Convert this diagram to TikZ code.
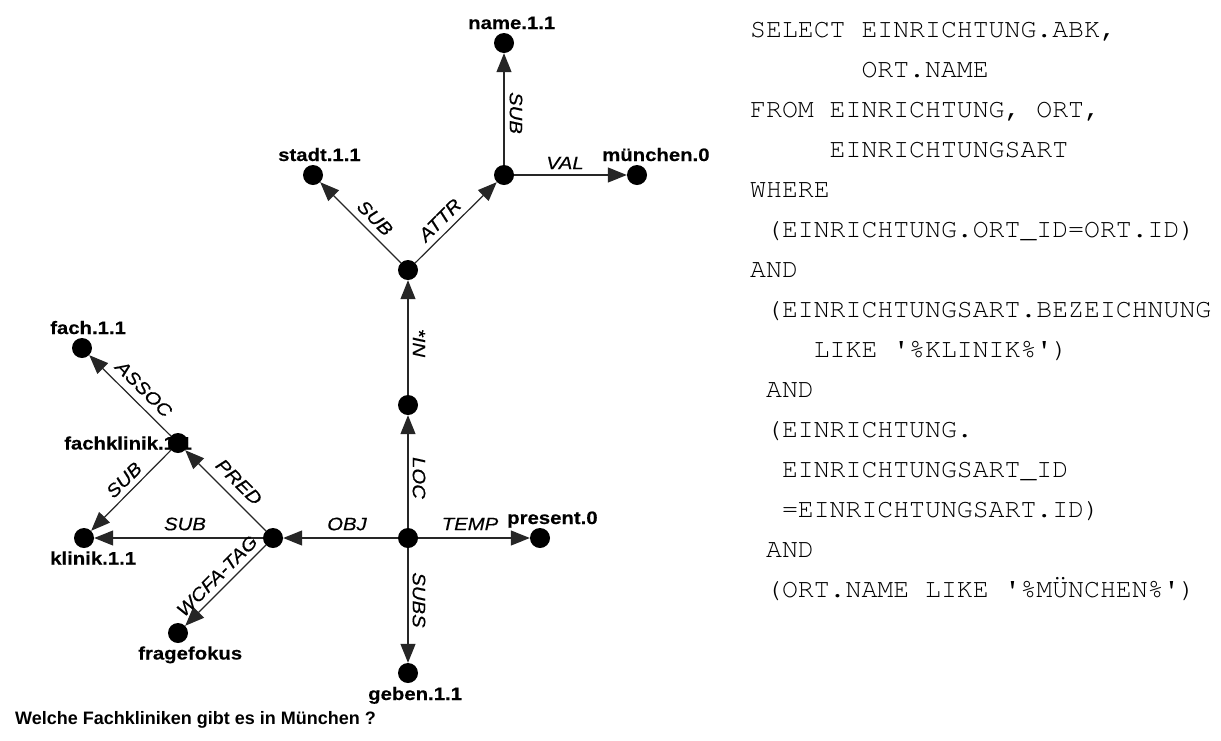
\documentclass[tikz,border=0pt]{standalone}
\usepackage[T1]{fontenc}
\usepackage{fontspec}
\setmainfont{Liberation Sans}
\setmonofont{Liberation Mono}
\newfontfamily\lblfont{Liberation Sans}[FakeStretch=1.13, BoldFeatures={FakeBold=0.3}, ItalicFeatures={FakeBold=0.4}]
\newcommand\sqlfont{\fontencoding{T1}\fontfamily{pcr}\fontseries{m}\fontshape{n}\fontsize{26.5}{26.5}\selectfont}
\newcommand\sq{\textquotesingle}
\usetikzlibrary{arrows.meta}
\tikzset{
  dot/.style={circle, fill=black, minimum size=20pt, inner sep=0pt},
  nlab/.style={font=\lblfont\bfseries\fontsize{18}{18}\selectfont, inner sep=0pt, anchor=base west},
  elab/.style={font=\lblfont\itshape\fontsize{18}{18}\selectfont, inner sep=0pt},
  edge/.style={draw=black!85, line width=1.2pt, -{Triangle[length=19pt,width=15pt]}},
  sql/.style={font=\sqlfont, anchor=base west, inner sep=0pt},
  caption/.style={font=\bfseries\fontsize{18}{18}\selectfont, anchor=base west, inner sep=0pt}
}
\begin{document}
\begin{tikzpicture}[x=1pt,y=-1pt]
\useasboundingbox[fill=white] (0,0) rectangle (1221,740);
% node labels (drawn first, dots cover them)
\node[nlab] (lname) at (468,29) {name.1.1};
\node[nlab] (lstadt) at (278,161) {stadt.1.1};
\node[nlab] (lmuen) at (602,161) {münchen.0};
\node[nlab] (lpres) at (507,524) {present.0};
\node[nlab] (lfach) at (50,334) {fach.1.1};
\node[nlab] (lfk) at (64,449.5) {fachklinik.1.1};
\node[nlab] (lklinik) at (50,564.5) {klinik.1.1};
\node[nlab] (lfrage) at (138,659.5) {fragefokus};
\node[nlab] (lgeben) at (368,700) {geben.1.1};
% dots
\node[dot] (name) at (504,43) {};
\node[dot] (A) at (504,175) {};
\node[dot] (stadt) at (313,175) {};
\node[dot] (muen) at (637,175) {};
\node[dot] (B) at (408,270) {};
\node[dot] (C) at (408,405) {};
\node[dot] (D) at (408,538) {};
\node[dot] (pres) at (540,538) {};
\node[dot] (geben) at (408,673) {};
\node[dot] (E) at (273,538) {};
\node[dot] (F) at (178,443) {};
\node[dot] (fach) at (82,348) {};
\node[dot] (klinik) at (84,538) {};
\node[dot] (frage) at (178,633) {};
% edges
\draw[edge] (A) -- (name);
\draw[edge] (B) -- (stadt);
\draw[edge] (B) -- (A);
\draw[edge] (A) -- (muen);
\draw[edge] (C) -- (B);
\draw[edge] (D) -- (C);
\draw[edge] (D) -- (pres);
\draw[edge] (D) -- (geben);
\draw[edge] (D) -- (E);
\draw[edge] (E) -- (klinik);
\draw[edge] (E) -- (F);
\draw[edge] (E) -- (frage);
\draw[edge] (F) -- (fach);
\draw[edge] (F) -- (klinik);
% edge labels
\node[elab, rotate=-90] (esub1) at (516,113) {SUB};
\node[elab, rotate=45] (eattr) at (440,220) {ATTR};
\node[elab, rotate=-45] (esub2) at (375,218) {SUB};
\node[elab] (eval) at (565,163) {VAL};
\node[elab, rotate=-90] (ein) at (419,343) {*IN};
\node[elab, rotate=-90] (eloc) at (419,478) {LOC};
\node[elab] (eobj) at (347,524) {OBJ};
\node[elab] (etemp) at (470,524) {TEMP};
\node[elab, rotate=-90] (esubs) at (419,600) {SUBS};
\node[elab] (esub3) at (185,524) {SUB};
\node[elab, rotate=-45] (epred) at (239,482) {PRED};
\node[elab, rotate=45] (esub4) at (124,480) {SUB};
\node[elab, rotate=-45] (eassoc) at (144,389) {ASSOC};
\node[elab, rotate=45] (ewcfa) at (217,576) {WCFA-TAG};
% caption
\node[caption] (cap) at (15,724) {Welche Fachkliniken gibt es in München ?};
% SQL
\def\cw{15.9}
\node[sql] (q1) at (750,37) {SELECT EINRICHTUNG.ABK,};
\node[sql] (q2) at (750+7*\cw,77) {ORT.NAME};
\node[sql] (q3) at (750,117) {FROM EINRICHTUNG, ORT,};
\node[sql] (q4) at (750+5*\cw,157) {EINRICHTUNGSART};
\node[sql] (q5) at (750,197) {WHERE};
\node[sql] (q6) at (750+1*\cw,237) {(EINRICHTUNG.ORT\_ID=ORT.ID)};
\node[sql] (q7) at (750,277) {AND};
\node[sql] (q8) at (750+1*\cw,317) {(EINRICHTUNGSART.BEZEICHNUNG};
\node[sql] (q9) at (750+4*\cw,357) {LIKE \sq\%KLINIK\%\sq)};
\node[sql] (q10) at (750+1*\cw,397) {AND};
\node[sql] (q11) at (750+1*\cw,437) {(EINRICHTUNG.};
\node[sql] (q12) at (750+2*\cw,477) {EINRICHTUNGSART\_ID};
\node[sql] (q13) at (750+2*\cw,517) {=EINRICHTUNGSART.ID)};
\node[sql] (q14) at (750+1*\cw,557) {AND};
\node[sql] (q15) at (750+1*\cw,597) {(ORT.NAME LIKE \sq\%MÜNCHEN\%\sq)};
\end{tikzpicture}
\end{document}
